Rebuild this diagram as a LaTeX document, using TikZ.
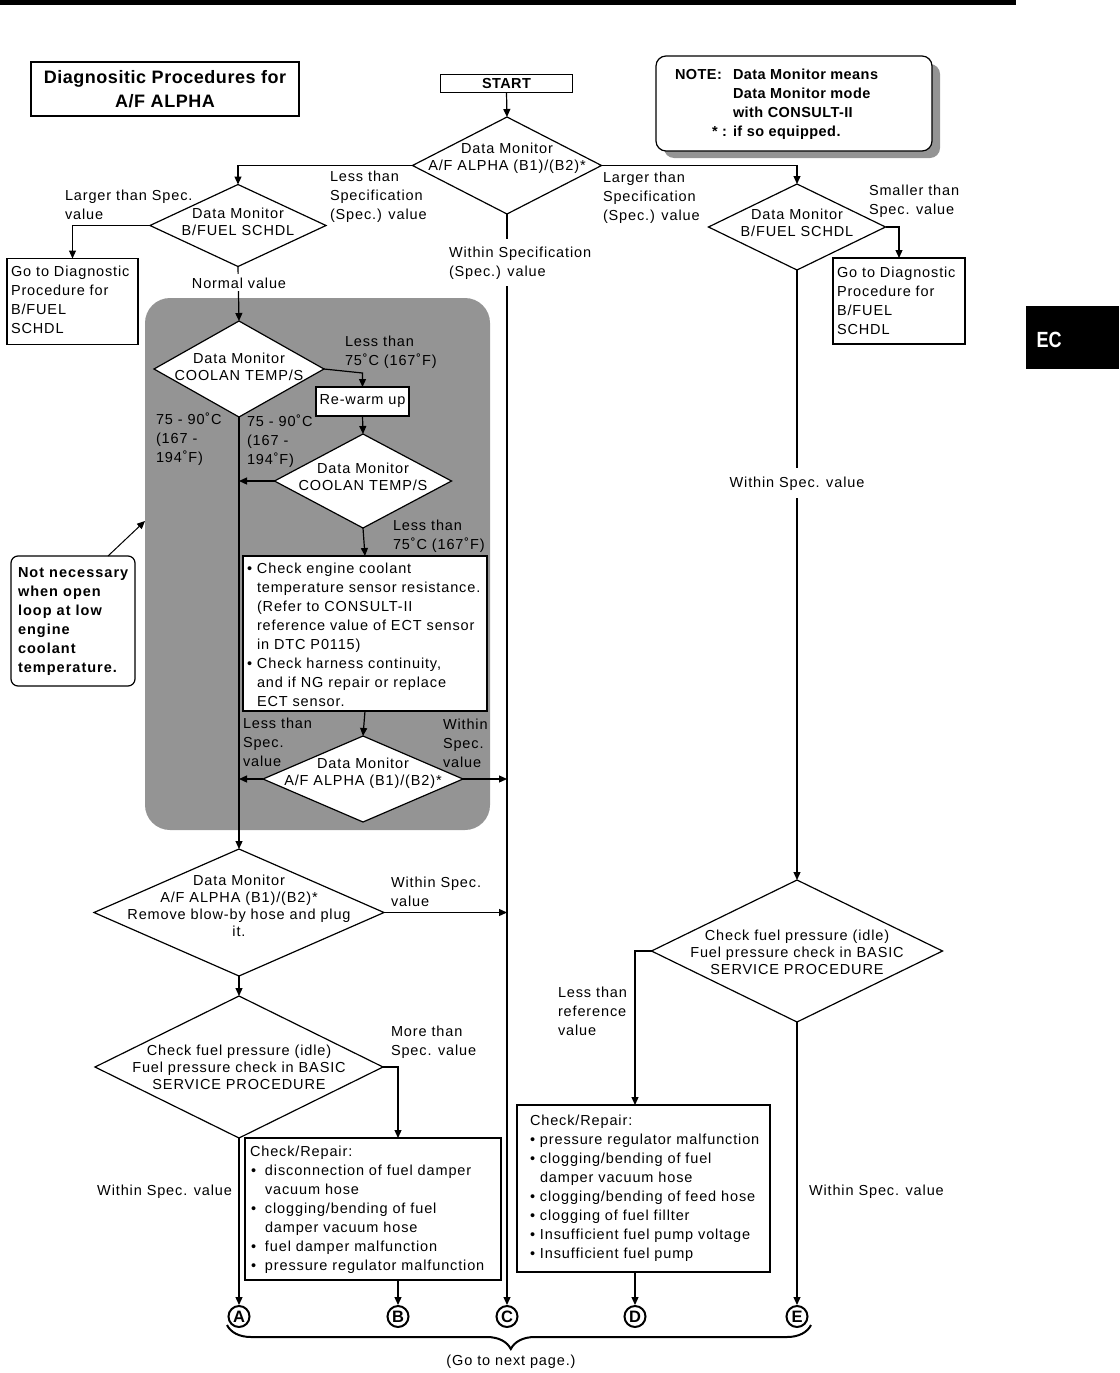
\documentclass[tikz,border=0pt]{standalone}
\usepackage{fontspec}
\setmainfont{Liberation Sans}[LetterSpace=6]
\usetikzlibrary{arrows.meta,shapes.geometric,decorations.pathreplacing}
\newcommand\fnl{\fontsize{14.5}{19}\selectfont}
\newcommand\fnd{\fontsize{14.5}{17}\selectfont}
\newcommand\bulA{\makebox[10pt][l]{•}}
\newcommand\indA{\hspace*{10pt}}
\newcommand\bulB{\makebox[15pt][l]{\hspace*{1pt}•}}
\newcommand\indB{\hspace*{15pt}}
\definecolor{shadegray}{gray}{0.58}
\begin{document}
\begin{tikzpicture}[x=1pt,y=-1pt,line width=1.2pt,
  arr/.style={-{Triangle[length=8pt,width=7pt]}},
  box/.style={draw,rectangle,inner sep=0,outer sep=0,fill=white},
  dia/.style={draw,diamond,inner sep=0,outer sep=0,fill=white},
  t/.style={inner sep=0,outer sep=0,anchor=base west,align=left,font=\fnl},
  dt/.style={inner sep=0,outer sep=0,align=center,font=\fnd},
  bt/.style={t,font=\fnl\bfseries\addfontfeature{LetterSpace=3}},
  circ/.style={draw,circle,line width=2pt,minimum size=21pt,inner sep=0,fill=white,
    font=\bfseries\fontsize{16.5}{16.5}\selectfont\addfontfeature{LetterSpace=0}}]
\useasboundingbox (0,0) rectangle (1119,1373);
% background elements
\fill (0,0) rectangle (1016,4.5);
\fill (1026,306) rectangle (1119,369);
\node[inner sep=0,anchor=base west,text=white,xscale=0.82,
  font=\bfseries\fontsize{22}{22}\selectfont\addfontfeature{LetterSpace=0}] (ec) at (1036,347) {EC};
\fill[shadegray,rounded corners=25pt] (145,298) rectangle (490,830);
\fill[shadegray,rounded corners=10pt] (664,64) rectangle (940,158);
\draw[fill=white,rounded corners=10pt] (656,56) rectangle (932,151);
\draw[fill=white,rounded corners=7pt] (11,556) rectangle (135,686);

% shape nodes
\node[box,minimum width=268pt,minimum height=54pt,align=center,
  font=\bfseries\fontsize{18}{24}\selectfont\addfontfeature{LetterSpace=3}] (title) at (165,89) {Diagnositic Procedures for\\A/F ALPHA};
\node[box,minimum width=132pt,minimum height=18pt,
  font=\bfseries\fontsize{14.5}{17}\selectfont\addfontfeature{LetterSpace=3}] (start) at (506.5,83.5) {START};
\node[dia,minimum width=189pt,minimum height=97pt] (d1) at (507,165.5) {};
\node[dia,minimum width=176pt,minimum height=82pt] (d2) at (238,225.5) {};
\node[box,minimum width=131pt,minimum height=86pt] (boxL) at (72.5,301.5) {};
\node[dia,minimum width=177pt,minimum height=86pt] (d7) at (797,227) {};
\node[box,minimum width=132pt,minimum height=86pt] (boxR) at (899,301) {};
\node[dia,minimum width=170pt,minimum height=96pt] (d3) at (239,369) {};
\node[box,minimum width=93pt,minimum height=29pt,font=\fnl] (rewarm) at (362.5,401.5) {Re-warm up};
\node[dia,minimum width=177pt,minimum height=94pt] (d4) at (363,481) {};
\node[box,minimum width=244pt,minimum height=155pt] (check) at (365,633.5) {};
\node[dia,minimum width=200pt,minimum height=86pt] (d5) at (363,779) {};
\node[dia,minimum width=290pt,minimum height=127pt] (d6) at (239,912.5) {};
\node[dia,minimum width=288pt,minimum height=142pt] (d8) at (239,1067) {};
\node[box,minimum width=256pt,minimum height=142pt] (boxB) at (373,1209) {};
\node[dia,minimum width=291pt,minimum height=142pt] (d9) at (797,951) {};
\node[box,minimum width=253pt,minimum height=167pt] (boxD) at (643.5,1188.5) {};
\node[circ] (cA) at (239,1316.5) {A};
\node[circ] (cB) at (398,1316.5) {B};
\node[circ] (cC) at (507,1316.5) {C};
\node[circ] (cD) at (635,1316.5) {D};
\node[circ] (cE) at (797,1316.5) {E};
\coordinate (k1) at (362.5,373);
\coordinate (nnA) at (108,556);
\coordinate (shA) at (145,521);
\coordinate (brL) at (227,1325);
\coordinate (brR) at (811,1325);

% connectors
\draw[arr] (start.south) -- (d1.north);
\draw[arr] (d1.west) -| (d2.north);
\draw[arr] (d1.east) -| (d7.north);
\draw[arr] (d1.south) -- (cC.north);
\draw[arr] (d2.west) -| (boxL.north);
\draw[arr] (d2.south) -- (d3.north);
\draw[arr] (d7.east) -| (boxR.north);
\draw[arr] (d7.south) -- (d9.north);
\draw[arr] (d3.east) -- (k1) -- (rewarm.north);
\draw[arr] (rewarm.south) -- (d4.north);
\draw[arr] (d4.west) -- (d4.west -| d3.south);
\draw[arr] (d4.south) -- (check.north);
\draw[arr] (check.south) -- (d5.north);
\draw[arr] (d5.west) -- (d5.west -| d3.south);
\draw[arr] (d5.east) -- (d5.east -| d1.south);
\draw[arr] (d3.south) -- (d6.north);
\draw[arr] (d6.east) -- (d6.east -| d1.south);
\draw[arr] (d6.south) -- (d8.north);
\draw[arr] (d8.east) -| (boxB.north -| cB);
\draw[arr] (boxB.south -| cB) -- (cB.north);
\draw[arr] (d8.south) -- (cA.north);
\draw[arr] (d9.west) -| (boxD.north -| cD);
\draw[arr] (boxD.south -| cD) -- (cD.north);
\draw[arr] (d9.south) -- (cE.north);
\draw[arr,line width=1pt] (nnA) -- (shA);
\draw[line width=2pt,decorate,decoration={brace,mirror,amplitude=24pt,aspect=0.486}] (brL) -- (brR);

% diamond texts
\node[dt] (d1t) at (507,158) {Data Monitor\\A/F ALPHA (B1)/(B2)*};
\node[dt] (d2t) at (238,222) {Data Monitor\\B/FUEL SCHDL};
\node[dt] (d7t) at (797,223) {Data Monitor\\B/FUEL SCHDL};
\node[dt] (d3t) at (239,367) {Data Monitor\\COOLAN TEMP/S};
\node[dt] (d4t) at (363,477) {Data Monitor\\COOLAN TEMP/S};
\node[dt] (d5t) at (363,773) {Data Monitor\\A/F ALPHA (B1)/(B2)*};
\node[dt] (d6t) at (239,906) {Data Monitor\\A/F ALPHA (B1)/(B2)*\\Remove blow-by hose and plug\\it.};
\node[dt] (d8t) at (239,1067) {Check fuel pressure (idle)\\Fuel pressure check in BASIC\\SERVICE PROCEDURE};
\node[dt] (d9t) at (797,952) {Check fuel pressure (idle)\\Fuel pressure check in BASIC\\SERVICE PROCEDURE};

% labels and box texts (anchor = baseline of the last line)
\node[t] (lLess) at (330,219) {Less than\\Specification\\(Spec.) value};
\node[t] (lLarger) at (65,219) {Larger than Spec.\\value};
\node[t] (tBoxL) at (11,333) {Go to Diagnostic\\Procedure for\\B/FUEL\\SCHDL};
\node[t,anchor=base,fill=white,inner sep=3pt] (lNormal) at (239,288) {Normal value};
\node[t] (lLargerR) at (603,220) {Larger than\\Specification\\(Spec.) value};
\node[t] (lSmaller) at (869,214) {Smaller than\\Spec. value};
\node[t] (tBoxR) at (837,334) {Go to Diagnostic\\Procedure for\\B/FUEL\\SCHDL};
\node[t,fill=white,inner xsep=2pt,inner ysep=7pt] (lWithinC) at (447,276) {Within Specification\\(Spec.) value};
\node[t,anchor=base,fill=white,inner xsep=3pt,inner ysep=8pt] (lWithinR) at (797,487) {Within Spec. value};
\node[t] (l75a) at (345,365) {Less than\\75˚C (167˚F)};
\node[t] (lrangeL) at (156,462) {75 - 90˚C\\(167 -\\194˚F)};
\node[t] (lrangeR) at (247,464) {75 - 90˚C\\(167 -\\194˚F)};
\node[t] (l75b) at (393,549) {Less than\\75˚C (167˚F)};
\node[t] (lLessS) at (243,766) {Less than\\Spec.\\value};
\node[t] (lWithinS) at (443,767) {Within\\Spec.\\value};
\node[t] (tCheck) at (247,706) {\bulA Check engine coolant\\\indA temperature sensor resistance.\\\indA (Refer to CONSULT-II\\\indA reference value of ECT sensor\\\indA in DTC P0115)\\\bulA Check harness continuity,\\\indA and if NG repair or replace\\\indA ECT sensor.};
\node[t,font=\fnl\bfseries\addfontfeature{LetterSpace=7}] (tNN) at (18,672) {Not necessary\\when open\\loop at low\\engine\\coolant\\temperature.};
\node[t] (lWithinD6) at (391,906) {Within Spec.\\value};
\node[t] (lMore) at (391,1055) {More than\\Spec. value};
\node[t,anchor=base east] (lWithinA) at (232,1195) {Within Spec. value};
\node[t] (tBoxB) at (250,1270) {Check/Repair:\\\bulB disconnection of fuel damper\\\indB vacuum hose\\\bulB clogging/bending of fuel\\\indB damper vacuum hose\\\bulB fuel damper malfunction\\\bulB pressure regulator malfunction};
\node[t] (lLessRef) at (558,1035) {Less than\\reference\\value};
\node[t] (tBoxD) at (530,1258) {Check/Repair:\\\bulA pressure regulator malfunction\\\bulA clogging/bending of fuel\\\indA damper vacuum hose\\\bulA clogging/bending of feed hose\\\bulA clogging of fuel fillter\\\bulA Insufficient fuel pump voltage\\\bulA Insufficient fuel pump};
\node[t] (lWithinE) at (809,1195) {Within Spec. value};
\node[t,anchor=base] (lNext) at (511,1365) {(Go to next page.)};
\node[bt] (tNote1) at (675,79) {NOTE:};
\node[bt] (tNote2) at (733,136) {Data Monitor means\\Data Monitor mode\\with CONSULT-II\\if so equipped.};
\node[bt,anchor=base east] (tNote3) at (727,136) {* :};
\end{tikzpicture}
\end{document}
